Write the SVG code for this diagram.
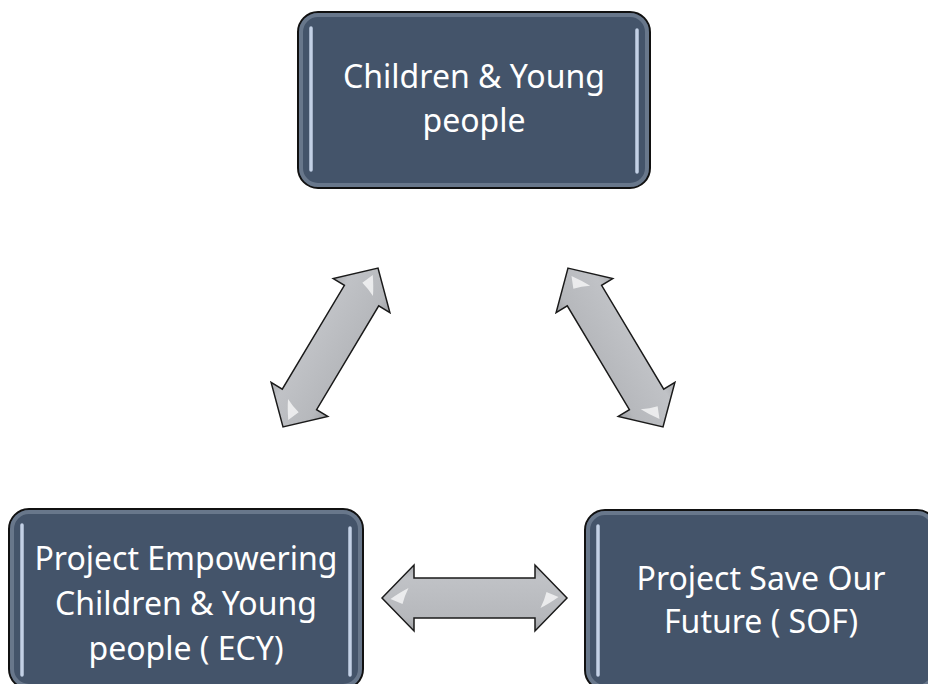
<svg xmlns="http://www.w3.org/2000/svg" width="928" height="684" viewBox="0 0 928 684">
<style>
.box{fill:#44546a;stroke:#111;stroke-width:2}
.glow{fill:none;stroke:#8c99ac;stroke-width:4;opacity:0.5}
.hl{stroke:#c3d1e6;stroke-width:3.5;stroke-linecap:round}
.lbl{font-family:"Noto Sans","Open Sans",sans-serif;font-size:32px;fill:#fff;text-anchor:middle}
.arrow{fill:url(#ag);stroke:#1a1a1a;stroke-width:1.5;stroke-linejoin:miter}
.glint{fill:#fff;opacity:0.7}
</style>
<defs>
<linearGradient id="ag" x1="0" y1="0" x2="0" y2="1">
<stop offset="0" stop-color="#a9abaf"/>
<stop offset="0.2" stop-color="#c0c2c6"/>
<stop offset="0.8" stop-color="#b6b8bc"/>
<stop offset="1" stop-color="#9d9fa3"/>
</linearGradient>
<path id="dbl" d="M-92.5,0 L-60.5,-33 L-60.5,-20 L60.5,-20 L60.5,-33 L92.5,0 L60.5,33 L60.5,20 L-60.5,20 L-60.5,33 Z"/>
</defs>

<g id="connectors">
<g transform="translate(330.5,347.5) rotate(-59.1)">
<use href="#dbl" class="arrow"/>
<path class="glint" d="M-84,1 Q-74,-6 -66,-10 Q-70,-2 -72,6 Z"/>
<path class="glint" d="M84,-1 Q74,6 66,10 Q70,2 72,-6 Z"/>
</g>
<g transform="translate(615.5,347.5) rotate(59.1)">
<use href="#dbl" class="arrow"/>
<path class="glint" d="M-84,1 Q-74,-6 -66,-10 Q-70,-2 -72,6 Z"/>
<path class="glint" d="M84,-1 Q74,6 66,10 Q70,2 72,-6 Z"/>
</g>
<g transform="translate(474.5,598)">
<use href="#dbl" class="arrow"/>
<path class="glint" d="M-84,1 Q-74,-6 -66,-10 Q-70,-2 -72,6 Z"/>
<path class="glint" d="M84,-1 Q74,6 66,10 Q70,2 72,-6 Z"/>
</g>
</g>

<g id="node-top">
<rect class="box" x="298" y="12" width="352" height="176" rx="20"/>
<rect class="glow" x="301" y="15" width="346" height="170" rx="17"/>
<line class="hl" x1="311" y1="28" x2="311" y2="170"/>
<line class="hl" x1="637" y1="30" x2="637" y2="172"/>
<text class="lbl" x="474" y="88">Children &amp; Young</text>
<text class="lbl" x="474" y="132">people</text>
</g>

<g id="node-ecy">
<rect class="box" x="9" y="509" width="354" height="180" rx="20"/>
<rect class="glow" x="12" y="512" width="348" height="174" rx="17"/>
<line class="hl" x1="22" y1="525" x2="22" y2="675"/>
<line class="hl" x1="350" y1="528" x2="350" y2="675"/>
<text class="lbl" x="186" y="570">Project Empowering</text>
<text class="lbl" x="186" y="615">Children &amp; Young</text>
<text class="lbl" x="186" y="660">people ( ECY)</text>
</g>

<g id="node-sof">
<rect class="box" x="585" y="510" width="352" height="180" rx="20"/>
<rect class="glow" x="588" y="513" width="346" height="174" rx="17"/>
<line class="hl" x1="598" y1="526" x2="598" y2="675"/>
<text class="lbl" x="761" y="590">Project Save Our</text>
<text class="lbl" x="761" y="633">Future ( SOF)</text>
</g>
</svg>
